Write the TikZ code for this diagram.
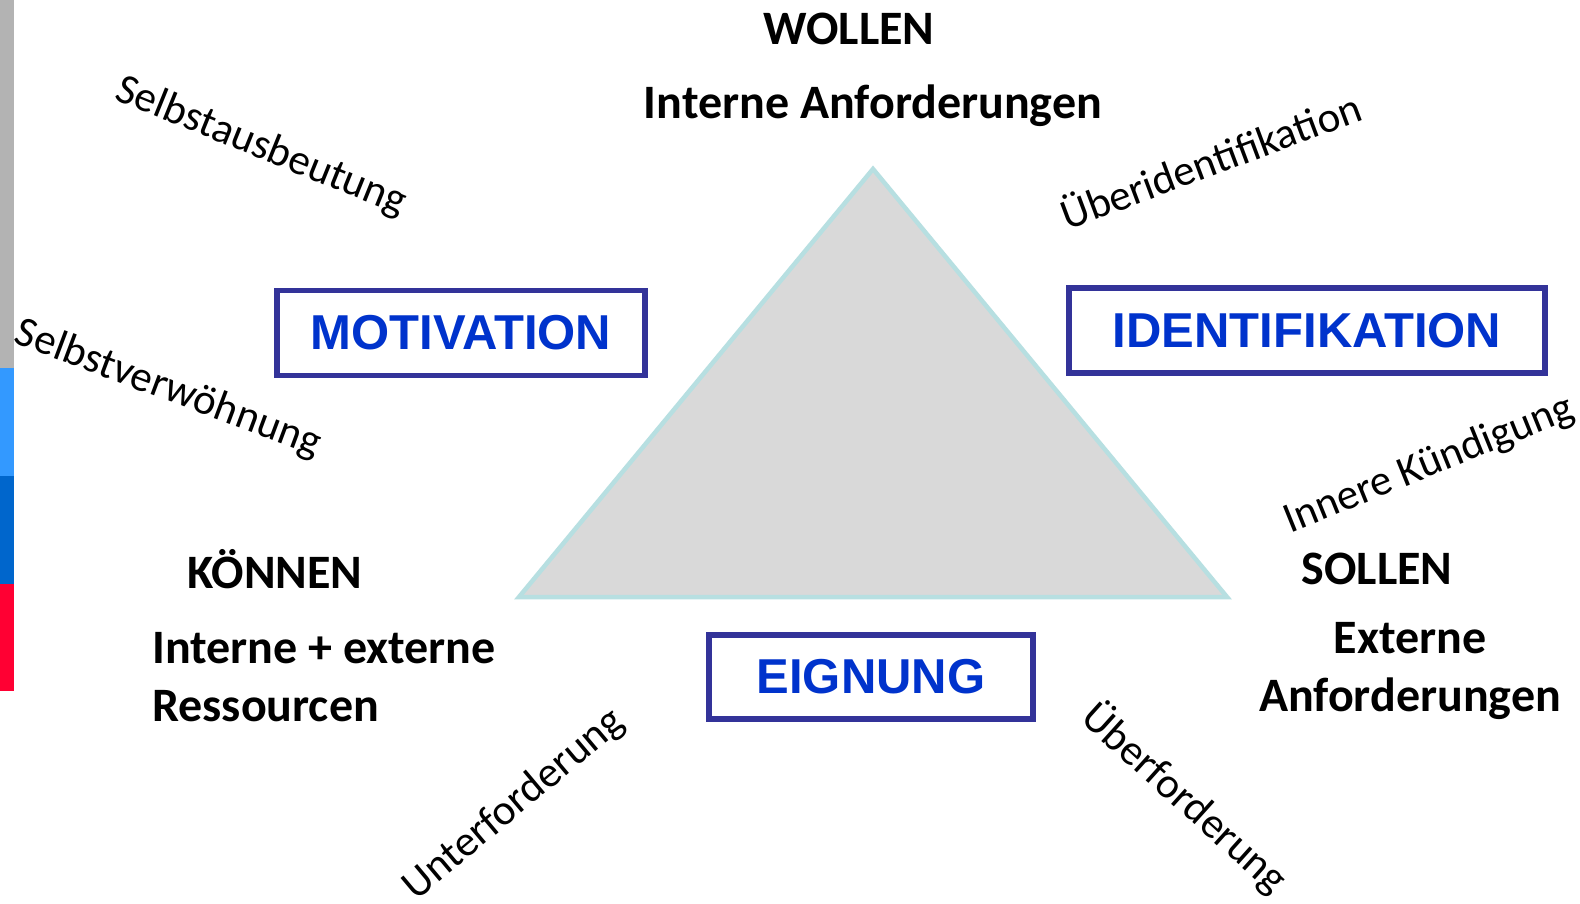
\documentclass[tikz,border=0pt]{standalone}
\usepackage{fontspec}
\setmainfont{Carlito}
\newfontfamily\arialfont{Liberation Sans}
\definecolor{bargrey}{HTML}{B3B3B3}
\definecolor{barlblue}{HTML}{3399FF}
\definecolor{bardblue}{HTML}{0066CC}
\definecolor{barred}{HTML}{FF0033}
\definecolor{trifill}{HTML}{D9D9D9}
\definecolor{triedge}{HTML}{B7DFE1}
\definecolor{boxedge}{HTML}{333399}
\definecolor{boxtext}{HTML}{0033CC}
\tikzset{
  conceptbox/.style={draw=boxedge, line width=5.5pt, fill=white, inner sep=0pt,
    font=\arialfont\bfseries\fontsize{49}{58}\selectfont, text=boxtext},
  cornerlabel/.style={font=\bfseries\fontsize{48}{58}\selectfont, text=black, inner sep=0pt},
  risklabel/.style={font=\fontsize{43}{50}\selectfont, text=black, inner sep=0pt}
}
\begin{document}
\begin{tikzpicture}[x=1pt,y=-1pt]
\useasboundingbox (0,0) rectangle (1580,904);
\fill[white] (0,0) rectangle (1580,904);
% left colour bar
\fill[bargrey] (0,0) rectangle (14,368);
\fill[barlblue] (0,368) rectangle (14,476);
\fill[bardblue] (0,476) rectangle (14,584);
\fill[barred] (0,584) rectangle (14,691);
% triangle
\coordinate (apex) at (873,169);
\coordinate (bl) at (519,597);
\coordinate (br) at (1227,597);
\draw[fill=trifill, draw=triedge, line width=4.5pt, line join=miter] (apex) -- (br) -- (bl) -- cycle;
% boxes
\node[conceptbox, minimum width=368pt, minimum height=85pt] (motiv) at (461,333) {MOTIVATION};
\node[conceptbox, minimum width=476pt, minimum height=85pt] (ident) at (1307,330.5) {IDENTIFIKATION};
\node[conceptbox, minimum width=324pt, minimum height=84pt] (eign) at (871,677) {EIGNUNG};
% corner labels
\node[cornerlabel] (wollen) at (849,29) {WOLLEN};
\node[cornerlabel] (intanf) at (873,106) {Interne Anforderungen};
\node[cornerlabel] (koennen) at (275,569) {KÖNNEN};
\node[cornerlabel, anchor=west, align=left] (ressourcen) at (152,677) {Interne + externe\\Ressourcen};
\node[cornerlabel] (sollen) at (1377,569) {SOLLEN};
\node[cornerlabel, align=center] (extanf) at (1410,671) {Externe\\Anforderungen};
% risk labels
\node[risklabel, rotate=-22] (sa) at (261,147) {Selbstausbeutung};
\node[risklabel, rotate=-20.5] (sv) at (168,389) {Selbstverwöhnung};
\node[risklabel, rotate=20.5] (ui) at (1210,159) {Überidentifikation};
\node[risklabel, rotate=22] (ik) at (1429,465) {Innere Kündigung};
\node[risklabel, rotate=40] (uf) at (514,805) {Unterforderung};
\node[risklabel, rotate=-42] (ueb) at (1185,798) {Überforderung};
\end{tikzpicture}
\end{document}
